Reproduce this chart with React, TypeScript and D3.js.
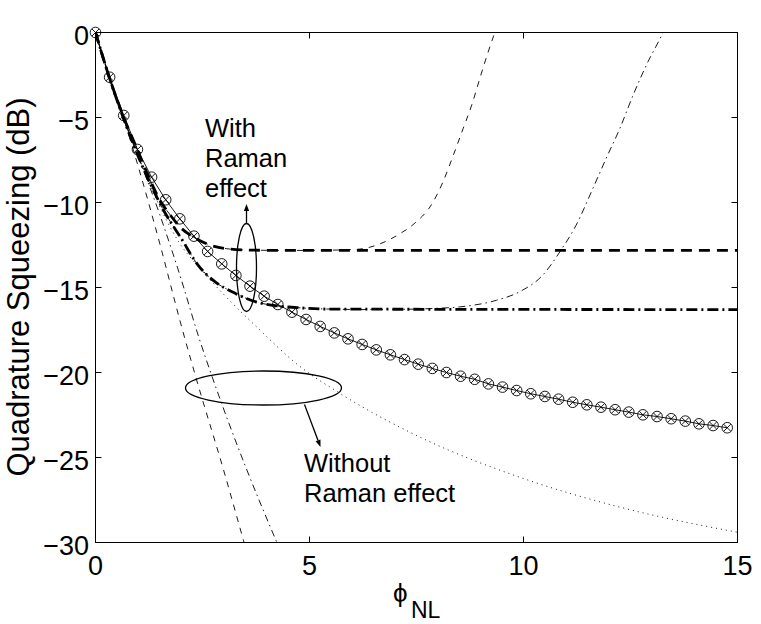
import * as d3 from "d3";
import React from "react";

// squeezing curves (phi_NL vs dB)
const phiCircle = [0, 0.33, 0.66, 0.98, 1.31, 1.64, 1.97, 2.3, 2.62, 2.95, 3.28, 3.61, 3.94, 4.26, 4.59, 4.92, 5.25, 5.58, 5.9, 6.23, 6.56, 6.89, 7.22, 7.54, 7.87, 8.2, 8.53, 8.86, 9.18, 9.51, 9.84, 10.17, 10.5, 10.82, 11.15, 11.48, 11.81, 12.14, 12.46, 12.79, 13.12, 13.45, 13.78, 14.1, 14.43, 14.76];
const sqzCircle = [0, -2.63, -4.88, -6.88, -8.51, -9.84, -10.96, -11.98, -12.88, -13.61, -14.29, -14.92, -15.51, -16.0, -16.45, -16.88, -17.29, -17.67, -18.02, -18.35, -18.67, -18.96, -19.24, -19.51, -19.76, -20.0, -20.22, -20.4, -20.67, -20.86, -21.06, -21.25, -21.41, -21.57, -21.75, -21.9, -22.04, -22.19, -22.33, -22.49, -22.59, -22.72, -22.86, -23.02, -23.12, -23.25];

const phiThickDash = [0, 0.33, 0.66, 0.97, 1.28, 1.48, 1.75, 1.98, 2.3, 2.6, 3.07, 3.6, 4.5, 15];
const sqzThickDash = [0, -2.7, -5.0, -6.84, -8.7, -9.75, -10.75, -11.45, -12.05, -12.43, -12.72, -12.8, -12.82, -12.82];

const phiThinDashUp = [0, 0.33, 0.66, 0.97, 1.28, 1.48, 1.75, 1.98, 2.3, 2.6, 3.07, 3.6, 4.5, 5.3, 6.1, 6.65, 7.11, 7.42, 7.89, 8.12, 8.36, 8.59, 8.79, 8.98, 9.15, 9.33, 9.4];
const sqzThinDashUp = [0, -2.7, -5.0, -6.84, -8.7, -9.75, -10.75, -11.45, -12.05, -12.43, -12.72, -12.8, -12.82, -12.81, -12.76, -12.43, -11.84, -11.3, -9.96, -8.78, -7.22, -5.65, -4.27, -2.7, -1.33, 0, 0.5];

const phiThickDashDot = [0, 0.33, 0.66, 1.0, 1.3, 1.6, 2.0, 2.4, 2.76, 3.23, 3.77, 4.3, 4.8, 5.5, 15];
const sqzThickDashDot = [0, -2.7, -5.1, -7.3, -9.0, -10.5, -12.1, -13.7, -14.6, -15.3, -15.86, -16.1, -16.2, -16.27, -16.3];

const phiThinDashDotUp = [0, 0.33, 0.66, 1.0, 1.3, 1.6, 2.0, 2.4, 2.76, 3.23, 3.77, 4.3, 4.8, 5.5, 6.5, 7.5, 8.0, 8.51, 9.37, 9.91, 10.45, 10.85, 11.23, 11.62, 11.93, 12.25, 12.56, 12.87, 13.26, 13.35];
const sqzThinDashDotUp = [0, -2.7, -5.1, -7.3, -9.0, -10.5, -12.1, -13.7, -14.6, -15.3, -15.86, -16.1, -16.2, -16.27, -16.3, -16.27, -16.22, -16.14, -15.75, -15.25, -14.27, -12.9, -11.33, -9.18, -7.41, -5.65, -3.69, -1.92, 0, 0.5];

const phiThinDashSteep = [0, 0.33, 0.66, 1.0, 1.5, 2.0, 2.37, 3.0, 3.46, 3.55];
const sqzThinDashSteep = [0, -2.7, -5.1, -7.9, -12.4, -17.2, -20.5, -25.8, -29.9, -30.7];

const phiThinDashDotSteep = [0, 0.33, 0.66, 1.0, 1.5, 2.0, 2.41, 2.76, 3.5, 4.22, 4.32];
const sqzThinDashDotSteep = [0, -2.7, -5.0, -7.3, -10.7, -14.5, -17.9, -20.5, -25.5, -29.9, -30.5];

const phiDotted = [0, 0.33, 0.66, 1.0, 1.44, 1.94, 2.45, 3.07, 3.77, 4.7, 5.79, 7.58, 9.91, 12.25, 15];
const sqzDotted = [0, -2.7, -5.1, -7.3, -9.9, -12.3, -13.9, -15.6, -17.33, -19.49, -21.35, -23.8, -26.16, -27.92, -29.4];

const xTicks = [0, 5, 10, 15];
const yTicks = [0, -5, -10, -15, -20, -25, -30];

const W = 761;
const H = 624;
const left = 95.5;
const right = 737.5;
const top = 32.5;
const bottom = 542.5;
const font = "'Liberation Sans', Arial, Helvetica, sans-serif";

const x = d3.scaleLinear().domain([0, 15]).range([left, right]);
const y = d3.scaleLinear().domain([-30, 0]).range([bottom, top]);

const zip = (xs: number[], ys: number[]) => xs.map((v, i) => [v, ys[i]] as [number, number]);

const smooth = d3
  .line<[number, number]>()
  .x((d) => x(d[0]))
  .y((d) => y(d[1]))
  .curve(d3.curveMonotoneX);

const straight = d3
  .line<[number, number]>()
  .x((d) => x(d[0]))
  .y((d) => y(d[1]));

const series = [
  { xs: phiDotted, ys: sqzDotted, w: 0.9, dash: "1 4" },
  { xs: phiThinDashSteep, ys: sqzThinDashSteep, w: 0.9, dash: "6 6" },
  { xs: phiThinDashDotSteep, ys: sqzThinDashDotSteep, w: 0.9, dash: "7 4 1.5 4" },
  { xs: phiThinDashUp, ys: sqzThinDashUp, w: 0.9, dash: "6 6" },
  { xs: phiThinDashDotUp, ys: sqzThinDashDotUp, w: 0.9, dash: "7 4 1.5 4" },
  { xs: phiThickDash, ys: sqzThickDash, w: 2.8, dash: "11 7" },
  { xs: phiThickDashDot, ys: sqzThickDashDot, w: 2.8, dash: "11 4 2 4" },
];

// little arrow with a filled head
function Arrow({ x1, y1, x2, y2 }: { x1: number; y1: number; x2: number; y2: number }) {
  const a = Math.atan2(y2 - y1, x2 - x1);
  const len = 7;
  const hw = 2.6;
  const bx = x2 - len * Math.cos(a);
  const by = y2 - len * Math.sin(a);
  const p1 = [bx + hw * Math.sin(a), by - hw * Math.cos(a)];
  const p2 = [bx - hw * Math.sin(a), by + hw * Math.cos(a)];
  return (
    <g>
      <line x1={x1} y1={y1} x2={bx} y2={by} stroke="#000" strokeWidth={1.3} />
      <polygon points={`${x2},${y2} ${p1[0]},${p1[1]} ${p2[0]},${p2[1]}`} fill="#000" />
    </g>
  );
}

export default function App() {
  const circlePts = zip(phiCircle, sqzCircle);
  return (
    <svg
      width={W}
      height={H}
      style={{ position: "absolute", left: 0, top: 0, background: "#fff" }}
      fontFamily={font}
    >
      <rect width={W} height={H} fill="#fff" />
      <defs>
        <clipPath id="plot">
          <rect x={left} y={top} width={right - left} height={bottom - top} />
        </clipPath>
      </defs>

      <g clipPath="url(#plot)" fill="none" stroke="#000">
        {series.map((s, i) => (
          <path
            key={i}
            d={smooth(zip(s.xs, s.ys)) || ""}
            strokeWidth={s.w}
            strokeDasharray={s.dash}
          />
        ))}
        <path d={straight(circlePts) || ""} strokeWidth={0.9} />
      </g>

      {/* circle-with-cross markers */}
      <g fill="none" stroke="#000" strokeWidth={0.9}>
        {circlePts.map((d, i) => {
          const cx = x(d[0]);
          const cy = y(d[1]);
          const k = 3.6;
          return (
            <g key={i}>
              <circle cx={cx} cy={cy} r={5.3} />
              <line x1={cx - k} y1={cy - k} x2={cx + k} y2={cy + k} />
              <line x1={cx - k} y1={cy + k} x2={cx + k} y2={cy - k} />
            </g>
          );
        })}
      </g>

      {/* axes box and ticks */}
      <rect x={left} y={top} width={right - left} height={bottom - top} fill="none" stroke="#000" strokeWidth={1} />
      <g stroke="#000" strokeWidth={1}>
        {xTicks.map((t) => (
          <g key={"x" + t}>
            <line x1={x(t)} x2={x(t)} y1={bottom} y2={bottom - 6} />
            <line x1={x(t)} x2={x(t)} y1={top} y2={top + 6} />
          </g>
        ))}
        {yTicks.map((t) => (
          <g key={"y" + t}>
            <line x1={left} x2={left + 6} y1={y(t)} y2={y(t)} />
            <line x1={right} x2={right - 6} y1={y(t)} y2={y(t)} />
          </g>
        ))}
      </g>
      <g fontSize={27} fill="#000">
        {xTicks.map((t) => (
          <text key={"xl" + t} x={x(t)} y={575} textAnchor="middle">
            {t}
          </text>
        ))}
        {yTicks.map((t) => (
          <text key={"yl" + t} x={89} y={y(t) + 12} textAnchor="end">
            {t < 0 ? "\u2212" + Math.abs(t) : t}
          </text>
        ))}
      </g>

      {/* axis labels */}
      <text
        transform="translate(29,287) rotate(-90)"
        textAnchor="middle"
        fontSize={31}
        fill="#000"
      >
        Quadrature Squeezing (dB)
      </text>
      <text x={393} y={602} fontSize={26} fill="#000">
        {"\u03D5"}
      </text>
      <text x={411} y={618} fontSize={23} fill="#000">
        NL
      </text>

      {/* annotations */}
      <ellipse cx={246.5} cy={267.5} rx={10} ry={44} fill="none" stroke="#000" strokeWidth={1.3} />
      <Arrow x1={246.5} y1={223.5} x2={246.5} y2={204} />
      <ellipse cx={263.5} cy={388} rx={78} ry={17} fill="none" stroke="#000" strokeWidth={1.3} />
      <Arrow x1={304.5} y1={404.5} x2={320.5} y2={447} />
      <g fontSize={25.5} fill="#000">
        <text x={205} y={137}>With</text>
        <text x={205} y={167}>Raman</text>
        <text x={205} y={197}>effect</text>
        <text x={304} y={472}>Without</text>
        <text x={304} y={502}>Raman effect</text>
      </g>
    </svg>
  );
}
